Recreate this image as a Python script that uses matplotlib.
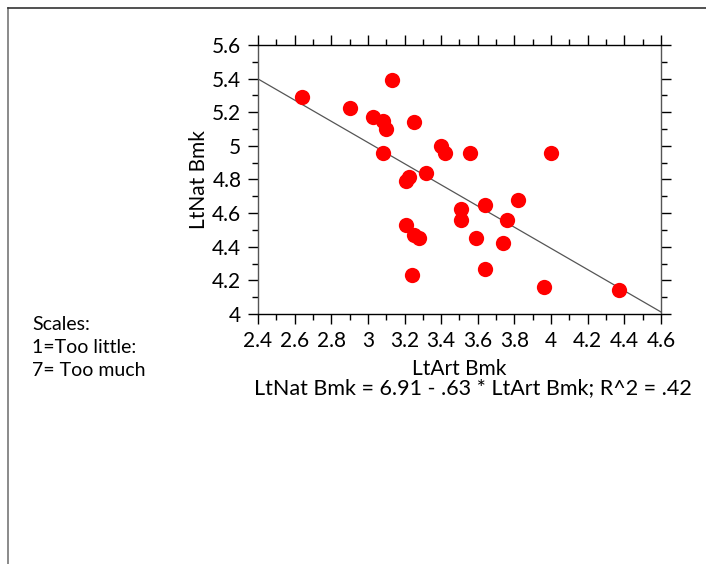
import matplotlib.pyplot as plt
from matplotlib.lines import Line2D
from matplotlib.ticker import MultipleLocator

# LtArt Bmk (x) vs LtNat Bmk (y)
LT_ART = [2.64, 2.90, 3.03, 3.08, 3.10, 3.13, 3.25, 3.08, 3.40, 3.42,
          3.555, 4.00, 3.21, 3.225, 3.32, 3.21, 3.25, 3.28, 3.24, 3.51,
          3.51, 3.59, 3.64, 3.64, 3.76, 3.74, 3.82, 3.96, 4.37]
LT_NAT = [5.29, 5.225, 5.17, 5.15, 5.10, 5.39, 5.14, 4.96, 5.0, 4.96,
          4.96, 4.96, 4.79, 4.815, 4.84, 4.53, 4.47, 4.45, 4.23, 4.625,
          4.56, 4.45, 4.65, 4.27, 4.56, 4.42, 4.68, 4.16, 4.14]
INTERCEPT = 6.91
SLOPE = -0.63
X_TICKS = [2.4, 2.6, 2.8, 3.0, 3.2, 3.4, 3.6, 3.8, 4.0, 4.2, 4.4, 4.6]
Y_TICKS = [4.0, 4.2, 4.4, 4.6, 4.8, 5.0, 5.2, 5.4, 5.6]


def fmt(v):
    s = f"{v:.1f}"
    return s[:-2] if s.endswith(".0") else s


plt.rcParams['font.family'] = ['Lato', 'DejaVu Sans']

fig = plt.figure(figsize=(7.06, 5.64), dpi=100)
ax = fig.add_axes([0.3654, 0.4433, 0.5708, 0.4770])

# regression line across the full x range
x0, x1 = X_TICKS[0], X_TICKS[-1]
ax.plot([x0, x1], [INTERCEPT + SLOPE * x0, INTERCEPT + SLOPE * x1],
        color="#555555", linewidth=0.9, zorder=2)
ax.plot(LT_ART, LT_NAT, "o", color="#ff0000", markersize=11,
        markeredgewidth=0, zorder=3)

ax.set_xlim(x0, x1)
ax.set_ylim(Y_TICKS[0], Y_TICKS[-1])
ax.set_xticks(X_TICKS)
ax.set_xticklabels([fmt(v) for v in X_TICKS])
ax.set_yticks(Y_TICKS)
ax.set_yticklabels([fmt(v) for v in Y_TICKS])
ax.xaxis.set_minor_locator(MultipleLocator(0.1))
ax.yaxis.set_minor_locator(MultipleLocator(0.1))
ax.tick_params(which="both", direction="out", top=True, right=True,
               labelsize=15, width=1, color="black")
ax.tick_params(which="major", length=7, pad=5)
ax.tick_params(which="minor", length=4.5)

for side in ["top", "bottom"]:
    ax.spines[side].set_color("black")
for side in ["left", "right"]:
    ax.spines[side].set_color("#555555")
for sp in ax.spines.values():
    sp.set_linewidth(1)

ax.set_xlabel("LtArt Bmk", fontsize=15, labelpad=6)
ax.set_ylabel("LtNat Bmk", fontsize=15, labelpad=2)

fig.text(0.670, 0.312, "LtNat Bmk = 6.91 - .63 * LtArt Bmk; R^2 = .42",
         ha="center", va="center", fontsize=15.5)
fig.text(0.046, 0.440, "Scales:\n1=Too little:\n7= Too much",
         ha="left", va="top", fontsize=14, linespacing=1.42)

# page frame lines
fig.add_artist(Line2D([8 / 706, 8 / 706], [0, 1 - 8 / 564],
                      transform=fig.transFigure, color="#777777", linewidth=1.2))
fig.add_artist(Line2D([8 / 706, 1], [1 - 8 / 564, 1 - 8 / 564],
                      transform=fig.transFigure, color="#333333", linewidth=1.2))

fig.savefig("out.png", dpi=100)
